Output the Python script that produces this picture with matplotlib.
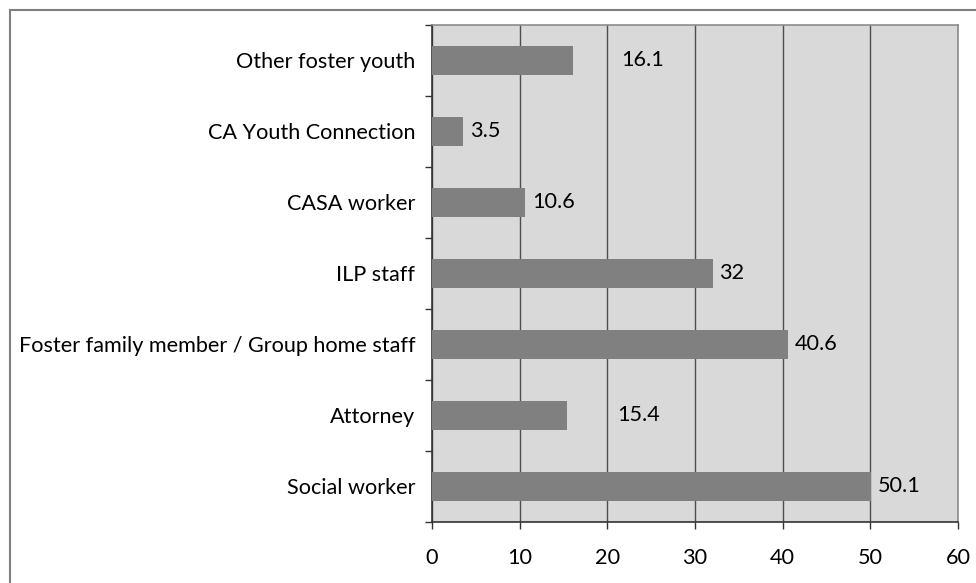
import matplotlib
matplotlib.use("Agg")
import matplotlib.pyplot as plt
from matplotlib.patches import Rectangle
import numpy as np

categories = ["Social worker", "Attorney", "Foster family member / Group home staff",
              "ILP staff", "CASA worker", "CA Youth Connection", "Other foster youth"]
values = [50.1, 15.4, 40.6, 32, 10.6, 3.5, 16.1]
value_labels = ["50.1", "15.4", "40.6", "32", "10.6", "3.5", "16.1"]
x_ticks = [0, 10, 20, 30, 40, 50, 60]

plt.rcParams["font.family"] = ["Lato", "DejaVu Sans"]
FS = 15.6

W, H = 976, 583
fig = plt.figure(figsize=(W / 100, H / 100), dpi=100)
ax = fig.add_axes([432 / W, 1 - 521.7 / H, (958 - 432) / W, (521.7 - 25) / H])

ypos = np.arange(len(categories))
ax.set_facecolor("#d9d9d9")
ax.barh(ypos, values, height=0.41, color="#808080", zorder=3)

ax.set_xlim(0, 60)
ax.set_ylim(-0.5, len(categories) - 0.5)
ax.set_xticks(x_ticks)
ax.set_xticklabels([str(t) for t in x_ticks], fontsize=FS)
ax.xaxis.grid(True, color="#4d4d4d", linewidth=1.0, zorder=1)
ax.set_axisbelow(True)

ax.set_yticks(ypos)
ax.set_yticklabels(categories, fontsize=FS)
ax.tick_params(axis="y", which="major", length=0, pad=12)
ax.set_yticks(np.arange(-0.5, len(categories)), minor=True)
ax.tick_params(axis="y", which="minor", length=5, width=1, color="#333333", direction="out")
ax.tick_params(axis="x", length=5, width=1, color="#333333", direction="out", pad=14)

for side in ("left", "bottom"):
    ax.spines[side].set_color("#333333")
    ax.spines[side].set_linewidth(1.2)
for side in ("top", "right"):
    ax.spines[side].set_color("#8c8c8c")
    ax.spines[side].set_linewidth(1.2)

# value labels; two labels sit out in the open area of the plot
offsets = {"15.4": 5.7, "16.1": 5.5}
for y, v, lab in zip(ypos, values, value_labels):
    ax.text(v + offsets.get(lab, 0.8), y, lab, va="center", ha="left", fontsize=FS, zorder=4)

# outer chart border
fig.patches.append(Rectangle((10 / W, -0.05), 1.2, 1 - 10 / H + 0.05,
                             transform=fig.transFigure, fill=False,
                             edgecolor="#7f7f7f", linewidth=1.5))

fig.savefig("out.png", dpi=100)
